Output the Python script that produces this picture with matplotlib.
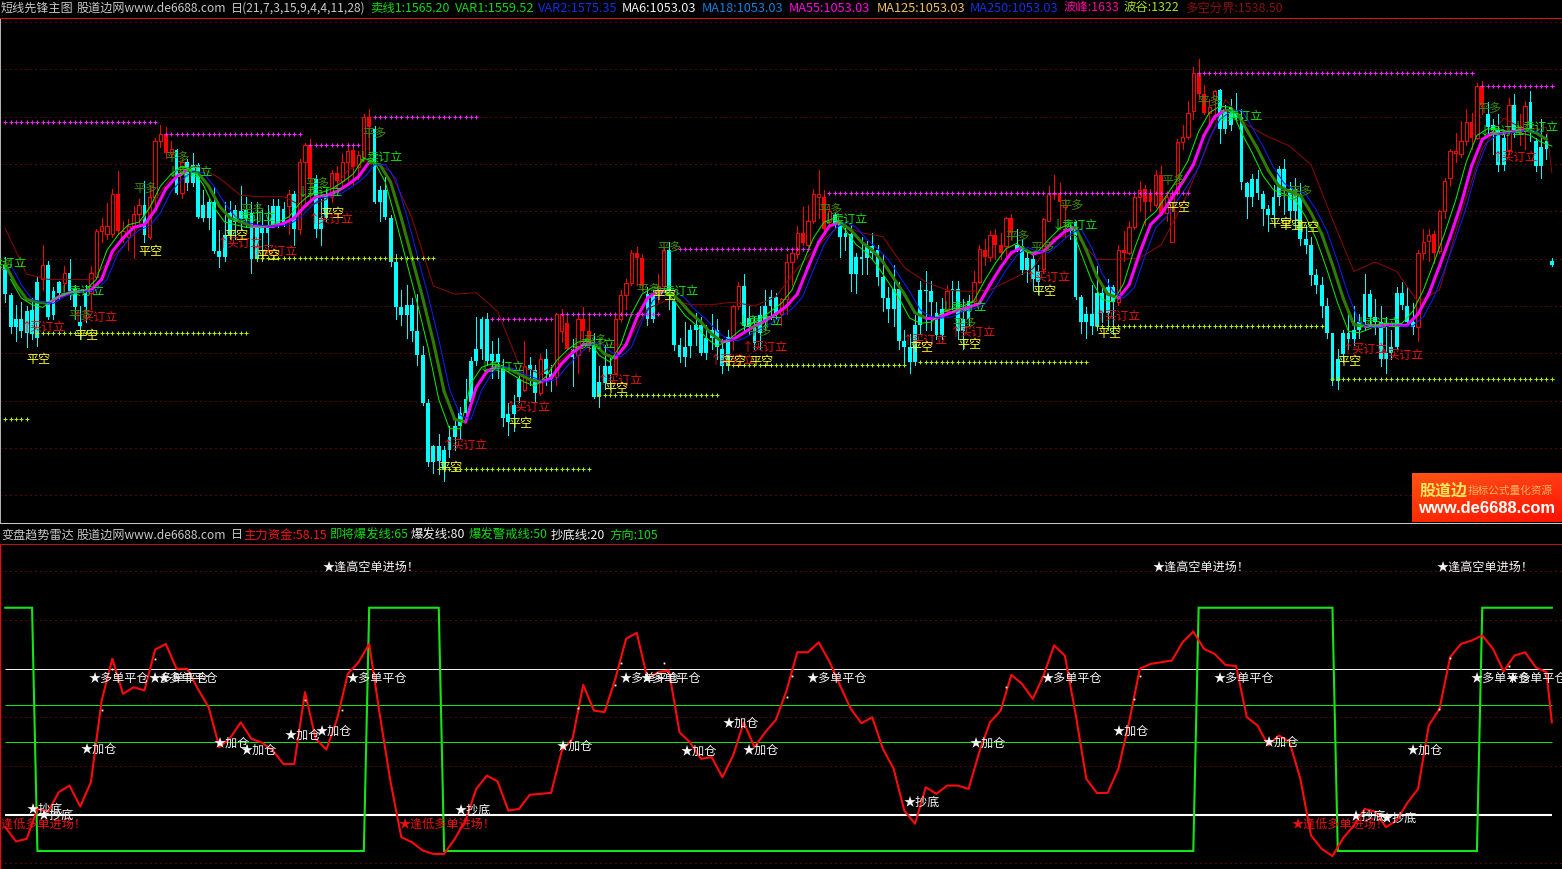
import numpy as np
import matplotlib
matplotlib.use("Agg")
import matplotlib.pyplot as plt
from matplotlib.collections import LineCollection

plt.rcParams['font.family'] = ['Noto Sans CJK SC', 'DejaVu Sans']

# ---------------- price panel data ----------------
bar_colors = ("cccccccrcc" "crccccrrrr" "rrrrrrcrrr" "rrcrcccccc" "cccccccccc" "cccrcrrrcc" "crrrrrrrrc"
              "cccccccccc" "cccccccccc" "cccccccrcc" "rccrrrcrrr" "ccccrrrrrr" "ccrrcccccc" "ccccccrrcc"
              "cccccrrrrr" "rrrrrccccc" "cccccccccc" "ccccccrccc" "crrrrrrrrc" "ccccrrrrrc" "ccccccccrr"
              "rrrrrrrrrr" "rrrrrrrccc" "cccccccccc" "cccccccccc" "cccccccccc" "ccccrrrrrr" "rrrrrrrccc"
              "crcrrccccc")
solid_red_bars = [21, 30, 57, 62, 65, 68, 105, 108, 109, 118, 119, 149, 153, 183, 185, 186, 188, 197,
                  209, 213, 214, 216, 223, 224, 267, 274, 276, 283]
body_top = [
 1481,1458,1440,1440,1446,1447,1468,1481,1481,1461, 1468,1475,1475,1463,1438,1460,1475,1506,1510,1510,
 1534,1534,1506,1510,1519,1526,1526,1532,1574,1579, 1579,1568,1567,1558,1558,1556,1556,1526,1528,1528,
 1491,1503,1520,1522,1521,1522,1520,1511,1511,1511, 1525,1525,1523,1534,1534,1558,1571,1571,1545,1516,
 1534,1550,1550,1558,1566,1567,1563,1592,1592,1583, 1537,1537,1516,1483,1449,1451,1451,1431,1413,1377,
 1345,1345,1342,1352,1360,1370,1380,1409,1418,1440, 1440,1414,1414,1404,1369,1376,1395,1405,1406,1402,
 1410,1410,1399,1444,1444,1437,1418,1440,1440,1431, 1422,1393,1405,1405,1440,1458,1467,1490,1490,1486,
 1459,1459,1465,1492,1492,1454,1421,1419,1432,1436, 1436,1426,1432,1432,1418,1427,1450,1465,1465,1441,
 1434,1443,1450,1457,1457,1455,1483,1490,1505,1505, 1514,1534,1534,1532,1521,1518,1513,1505,1504,1487,
 1487,1495,1495,1492,1472,1456,1463,1463,1424,1419, 1436,1462,1462,1461,1445,1448,1461,1463,1463,1440,
 1454,1468,1493,1492,1503,1503,1496,1516,1516,1496, 1495,1486,1485,1476,1515,1534,1535,1535,1526,1508,
 1513,1457,1444,1444,1460,1460,1464,1464,1492,1492, 1509,1532,1537,1538,1534,1548,1548,1532,1535,1573,
 1577,1595,1625,1625,1609,1599,1611,1612,1598,1599, 1596,1592,1542,1545,1545,1534,1523,1532,1553,1553,
 1538,1538,1534,1500,1496,1473,1466,1450,1430,1410, 1430,1430,1432,1438,1459,1459,1442,1438,1415,1419,
 1460,1460,1450,1438,1490,1498,1503,1504,1521,1544, 1566,1566,1574,1588,1588,1615,1615,1594,1586,1582,
 1576,1601,1601,1585,1600,1603,1574,1569,1574,1484]
body_bot = [
 1459,1434,1434,1431,1430,1429,1426,1470,1442,1443, 1460,1467,1461,1449,1435,1449,1460,1472,1506,1504,
 1504,1506,1502,1502,1510,1519,1503,1502,1532,1574, 1565,1564,1535,1535,1542,1542,1517,1516,1516,1491,
 1487,1487,1503,1513,1515,1516,1485,1485,1505,1505, 1510,1510,1513,1525,1508,1508,1558,1545,1508,1508,
 1516,1532,1544,1544,1558,1554,1554,1562,1584,1528, 1528,1517,1483,1449,1443,1443,1431,1413,1377,1333,
 1333,1334,1327,1342,1352,1360,1370,1378,1409,1418, 1409,1409,1408,1366,1363,1369,1382,1387,1402,1385,
 1385,1399,1395,1397,1431,1418,1412,1413,1431,1421, 1382,1382,1392,1399,1400,1440,1458,1467,1486,1465,
 1440,1440,1459,1465,1461,1421,1412,1412,1420,1432, 1415,1415,1426,1419,1405,1405,1427,1450,1435,1434,
 1422,1430,1438,1450,1443,1444,1455,1483,1489,1497, 1496,1514,1532,1508,1513,1512,1502,1502,1474,1474,
 1485,1486,1490,1472,1456,1448,1448,1424,1419,1408, 1408,1436,1461,1453,1428,1428,1446,1461,1431,1431,
 1440,1454,1468,1487,1487,1496,1490,1495,1505,1492, 1477,1477,1470,1468,1478,1514,1534,1528,1524,1506,
 1457,1438,1438,1435,1435,1445,1445,1453,1453,1490, 1490,1509,1532,1528,1528,1526,1520,1520,1498,1535,
 1573,1577,1596,1609,1595,1595,1605,1583,1583,1586, 1592,1543,1532,1532,1535,1523,1518,1518,1532,1538,
 1521,1521,1500,1496,1473,1466,1450,1430,1394,1394, 1414,1425,1425,1432,1438,1442,1438,1410,1410,1415,
 1419,1451,1438,1434,1434,1490,1499,1490,1491,1521, 1546,1565,1564,1574,1576,1576,1601,1584,1582,1556,
 1556,1567,1582,1580,1582,1581,1555,1555,1568,1481]
highs = [
 1487,1460,1451,1453,1450,1456,1472,1496,1484,1464, 1469,1480,1485,1466,1450,1466,1480,1508,1516,1527,
 1538,1551,1514,1515,1525,1530,1544,1541,1576,1586, 1584,1574,1568,1560,1560,1565,1557,1537,1530,1539,
 1507,1528,1529,1526,1540,1532,1528,1528,1522,1526, 1530,1530,1528,1537,1536,1560,1572,1575,1548,1530,
 1538,1552,1555,1565,1572,1571,1566,1594,1598,1585, 1540,1547,1518,1489,1462,1466,1456,1459,1420,1380,
 1346,1354,1345,1360,1365,1374,1395,1412,1442,1442, 1445,1424,1426,1410,1377,1383,1399,1424,1412,1406,
 1414,1418,1406,1445,1448,1442,1425,1444,1449,1442, 1430,1405,1421,1413,1443,1462,1470,1492,1494,1489,
 1464,1462,1474,1494,1498,1456,1426,1438,1436,1445, 1442,1436,1444,1440,1425,1432,1451,1468,1474,1450,
 1442,1450,1462,1462,1460,1456,1489,1492,1510,1524, 1526,1538,1552,1537,1526,1520,1514,1511,1511,1490,
 1502,1499,1505,1496,1489,1464,1481,1468,1432,1429, 1443,1469,1476,1469,1453,1456,1466,1469,1469,1455,
 1458,1476,1496,1500,1506,1508,1505,1517,1519,1508, 1500,1492,1490,1481,1516,1540,1548,1542,1530,1511,
 1514,1458,1449,1466,1480,1466,1470,1466,1496,1506, 1514,1534,1544,1541,1538,1552,1555,1535,1537,1575,
 1586,1604,1629,1635,1616,1605,1612,1613,1601,1605, 1610,1598,1543,1549,1552,1536,1526,1541,1555,1560,
 1543,1546,1542,1511,1502,1478,1472,1456,1430,1418, 1432,1448,1450,1444,1474,1462,1455,1450,1442,1432,
 1464,1468,1464,1452,1492,1508,1508,1506,1522,1546, 1568,1580,1589,1598,1595,1617,1619,1603,1590,1594,
 1582,1606,1609,1594,1604,1611,1576,1590,1579,1486]
lows = [
 1453,1430,1424,1427,1419,1425,1420,1462,1440,1440, 1455,1461,1455,1440,1425,1438,1448,1472,1498,1500,
 1502,1504,1498,1492,1486,1511,1498,1500,1526,1569, 1561,1562,1534,1531,1537,1540,1516,1514,1508,1490,
 1479,1484,1500,1500,1508,1509,1475,1484,1484,1492, 1509,1509,1510,1504,1496,1504,1526,1530,1502,1496,
 1514,1528,1536,1539,1544,1541,1545,1562,1564,1527, 1514,1515,1480,1440,1436,1426,1424,1406,1376,1330,
 1325,1324,1319,1337,1342,1350,1370,1378,1406,1410, 1406,1396,1396,1360,1353,1356,1378,1386,1391,1378,
 1383,1391,1386,1391,1423,1418,1390,1400,1421,1416, 1381,1374,1388,1388,1399,1438,1448,1466,1466,1462,
 1436,1438,1453,1462,1448,1417,1408,1405,1412,1421, 1413,1410,1418,1410,1400,1402,1417,1448,1432,1429,
 1418,1418,1432,1440,1440,1436,1444,1466,1486,1496, 1495,1512,1516,1506,1510,1509,1487,1492,1461,1460,
 1474,1474,1485,1466,1446,1438,1435,1418,1406,1400, 1406,1429,1432,1432,1425,1425,1444,1448,1425,1418,
 1436,1451,1467,1481,1484,1485,1485,1486,1500,1491, 1474,1468,1462,1459,1475,1514,1530,1508,1502,1500,
 1455,1430,1426,1429,1432,1438,1432,1429,1451,1484, 1489,1508,1521,1511,1521,1524,1518,1514,1498,1534,
 1568,1575,1590,1605,1594,1585,1590,1572,1580,1582, 1590,1538,1516,1525,1530,1511,1506,1511,1526,1519,
 1516,1508,1496,1490,1466,1460,1442,1426,1391,1388, 1408,1418,1421,1426,1432,1436,1429,1405,1400,1410,
 1418,1448,1436,1429,1424,1485,1484,1482,1490,1516, 1540,1558,1562,1571,1568,1575,1594,1579,1564,1551,
 1552,1564,1577,1571,1568,1574,1551,1546,1560,1480]

# values sampled every second bar
band_mid = [
 1481,1466,1455,1453,1452,1457,1460,1461,1462,1470, 1491,1501,1509,1511,1522,1538,1547,1552,1550,1540,
 1525,1516,1513,1510,1510,1510,1512,1516,1525,1532, 1533,1536,1541,1547,1558,1556,1543,1516,1486,1456,
 1423,1386,1365,1363,1389,1401,1405,1403,1399,1395, 1393,1396,1407,1415,1421,1422,1414,1411,1421,1441,
 1456,1461,1461,1454,1445,1438,1429,1423,1425,1430, 1435,1439,1444,1450,1459,1479,1498,1510,1513,1507,
 1498,1492,1483,1471,1459,1445,1441,1441,1444,1447, 1449,1452,1466,1479,1490,1494,1489,1491,1499,1506,
 1509,1492,1472,1459,1456,1466,1490,1511,1519,1531, 1543,1556,1578,1592,1597,1596,1582,1568,1552,1540,
 1536,1533,1520,1504,1481,1456,1436,1435,1435,1436, 1436,1436,1444,1459,1480,1502,1526,1555,1575,1580,
 1580,1581,1582,1580,1575]
var1 = [
 1470,1456,1451,1449,1455,1459,1461,1462,1470,1492, 1503,1511,1513,1524,1540,1549,1555,1552,1541,1524,
 1513,1511,1509,1509,1510,1513,1517,1527,1534,1535, 1538,1543,1549,1561,1558,1543,1514,1483,1452,1419,
 1380,1358,1358,1392,1404,1407,1403,1398,1393,1390, 1397,1409,1417,1423,1424,1413,1408,1421,1444,1459,
 1464,1463,1454,1443,1436,1426,1420,1424,1431,1436, 1440,1446,1452,1462,1482,1501,1513,1516,1507,1496,
 1490,1480,1468,1456,1441,1437,1438,1445,1448,1450, 1454,1469,1482,1493,1497,1490,1491,1500,1508,1512,
 1490,1469,1455,1453,1467,1493,1514,1521,1533,1545, 1559,1581,1595,1600,1599,1580,1565,1548,1537,1534,
 1530,1517,1500,1477,1452,1431,1430,1433,1437,1437, 1437,1446,1462,1483,1505,1529,1558,1578,1583,1582,
 1581,1580,1578,1573,1570]
var2 = [
 1485,1481,1466,1455,1453,1452,1457,1460,1461,1462, 1470,1489,1500,1507,1510,1520,1536,1545,1551,1550,
 1540,1527,1517,1513,1511,1510,1510,1511,1516,1524, 1531,1532,1535,1540,1546,1556,1556,1545,1518,1488,
 1458,1425,1388,1368,1365,1387,1400,1405,1403,1399, 1396,1393,1395,1405,1413,1420,1423,1416,1412,1419,
 1439,1454,1460,1462,1456,1447,1440,1431,1425,1424, 1428,1433,1437,1442,1448,1457,1477,1496,1508,1513,
 1509,1500,1493,1485,1473,1461,1447,1442,1441,1442, 1446,1448,1451,1464,1477,1488,1494,1491,1490,1497,
 1504,1508,1494,1474,1461,1456,1464,1488,1509,1517, 1529,1541,1554,1576,1590,1596,1597,1584,1570,1554,
 1542,1537,1534,1522,1506,1483,1458,1438,1434,1434, 1435,1435,1435,1442,1457,1478,1500,1524,1553,1573,
 1579,1580,1581,1582,1580]
# sampled every fourth bar, last point on the final bar
bound_line = [
 1508,1474,1470,1470,1470,1486,1504,1530,1552,1555, 1546,1533,1532,1532,1524,1530,1552,1560,1551,1516,
 1465,1459,1460,1446,1406,1399,1410,1425,1421,1421, 1448,1455,1451,1451,1453,1450,1457,1478,1496,1511,
 1505,1502,1479,1468,1462,1461,1462,1470,1478,1502, 1503,1485,1485,1486,1496,1526,1564,1605,1586,1577,
 1570,1556,1515,1476,1483,1476,1453,1462,1519,1568, 1591,1582,1584,1550]

res_start = [0, 30, 57, 69, 91, 104, 126, 154, 223, 276]
res_end = [28, 55, 66, 88, 102, 122, 150, 221, 274, 289]
res_price = [1588, 1579, 1571, 1591.5, 1440, 1444, 1493, 1534.5, 1625, 1615]
sup_start = [0, 6, 47, 81, 111, 135, 171, 204, 248]
sup_end = [4, 45, 80, 109, 133, 168, 202, 246, 289]
sup_price = [1365, 1429.5, 1486, 1327.5, 1383, 1406, 1408, 1435, 1395]

sell_bars = [-3.8,10.8,31.1,42.9,55.4,66.6,89.3,106.4,121.8,137.6,153.5,175.6,196.5,227.3,253.1,276.3,282.5]
sell_prices = [1483,1462,1551,1517,1536,1562,1405,1422,1462,1439,1516,1450,1511,1593,1438,1582,1585]
buy_bars = [3.7,13.4,40.5,47.0,57.5,82.5,94.3,111.5,132.6,138.6,168.5,177.4,191.5,204.5,250.7,257.4,278.7]
buy_prices = [1435,1442,1498,1492,1516,1346,1375,1395,1410,1420,1425,1431,1472,1443,1418,1414,1562]
cover_long_bars = [23.9,30,-2.9,11.7,43.9,56,66.8,108,121.8,118,138.6,152,176.9,186.8,196.9,216,222.8,191.5,239.7,237.8,275]
cover_long_prices = [1539,1562,1481,1444,1523,1543,1580,1425,1495,1463,1432,1523,1438,1503,1526,1545,1604,1495,1537,1534,1599]
cover_short_bars = [24.8,41,47,58.8,4,13,81,94,112,121,134,139.1,169,178,192,217,204,236,238,241,249]
cover_short_prices = [1492,1504,1489,1520,1411,1429,1330,1363,1389,1459,1409,1409,1420,1422,1462,1525,1430,1513,1511,1510,1409]

# ---------------- oscillator panel data ----------------
money_flow = [
 14.8,8.9,10,22.3,21.2,29.2,31.9,23.3,33.3,66.8, 84,69.6,72.3,71,87.8,90.1,79.9,79.9,71.6,64.1,
 47.7,51.4,57.9,51.1,49.5,46.3,40.7,40.8,70.3,51.1, 46.7,59.3,77.8,82.6,90.1,60.7,33.3,10.7,8.6,5.2,
 3.8,3.8,10,17.5,30.5,36,33.6,21.6,22.3,
 28.1,28.5,28.9,46.3,51.1,73.3,62.7,62.1,75.8,92.2, 94.7,75.8,78.5,79.2,53.8,49.5,42.9,43.6,35.3,44.2,
 57.9,47.7,53.8,58.9,71,86.7,86.7,90.8,82.9,73, 63.4,57.5,60,47,38.8,21.6,16.2,31.2,28.5,31.9,
 31.9,30.5,45.6,57.9,62.7,77.4,73.7,67.5,
 77.1,89.5,85.3,61.4,34.7,28.8,28.9,38.8,57.9,79.9, 81.9,82.6,83.3,90.8,95.2,88.1,86,81.5,81,60,
 56.6,48.4,52.5,49.7,34.7,11.4,5.9,2.9,10.3,15.5, 22.3,21.2,14.8,17.5,24.8,30.5,56.6,63.4,84.7,90.1,
 91.5,93.6,88.1,78.9,85.3,86.7,80.5,78.5,57.9]
direction_values = [105, 5, 105, 5, 105, 5, 105]
direction_runs = [6, 62, 14, 141, 26, 27, 14]
dot_bars = [18,20,28,56,63,107,114,115,123,146,147,187,211,212,268,270,281]
dot_values = [63,80,84,67,63,63.7,73.3,82.2,82.3,68.2,77.1,72.3,67.3,76.8,63.3,84.2,81]

short_entry_bars = [59.2, 214.3, 267.5]
short_entry_values = [121.9, 121.9, 121.9]
long_entry_bars = [-3.0, 73.4, 240.4]
long_entry_values = [16.3, 16.3, 16.3]
close_long_bars = [15.6,26.7,28.5,63.7,114.7,118.8,149.8,193.7,225.7,273.9,280.6]
add_bars = [14,39,44,52.1,58,103.1,126.1,134.1,137.8,180.1,207,235,261.9]
add_values = [47.1,49.6,46.7,52.9,54.5,48.4,46.3,57.8,46.7,49.6,54.5,50,46.7]
bottom_bars = [4,6.1,84,167.9,251.2,257]
bottom_values = [22.5,20,22,25.3,19.6,18.8]

header_top = [("短线先锋主图", 1, "#c8c8c8"), ("股道边网www.de6688.com", 77, "#c8c8c8"),
              ("日(21,7,3,15,9,4,4,11,28)", 231, "#c8c8c8"), ("卖线1:1565.20", 370, "#10d810"),
              ("VAR1:1559.52", 455, "#10d810"), ("VAR2:1575.35", 538, "#1030e0"), ("MA6:1053.03", 622, "#f0f0f0"),
              ("MA18:1053.03", 702, "#1080e0"), ("MA55:1053.03", 789, "#ff00e0"), ("MA125:1053.03", 877, "#f0c060"),
              ("MA250:1053.03", 970, "#1030e0"), ("波峰:1633", 1064, "#ff00a0"), ("波谷:1322", 1124, "#a0e020"),
              ("多空分界:1538.50", 1185, "#8a1010")]
header_low = [("变盘趋势雷达", 1, "#c8c8c8"), ("股道边网www.de6688.com", 77, "#c8c8c8"), ("日", 231, "#c8c8c8"),
              ("主力资金:58.15", 243, "#ff1010"), ("即将爆发线:65", 329, "#10d810"), ("爆发线:80", 411, "#f0f0f0"),
              ("爆发警戒线:50", 469, "#10d810"), ("抄底线:20", 551, "#f0f0f0"), ("方向:105", 609, "#10d810")]

W, H = 1562, 870
fig = plt.figure(figsize=(W / 100, H / 100), dpi=100, facecolor="black")
PX = 0.72
LEFT, RIGHT = -0.99, 290.9

def make_axes(top, bottom, y0, y1, grid, top_col, left_col):
    ax = fig.add_axes([0, (H - bottom) / H, 1, (bottom - top) / H], facecolor="black")
    ax.set_xlim(LEFT, RIGHT)
    ax.set_ylim(y0, y1)
    ax.set_xticks([])
    ax.set_yticks(grid)
    ax.tick_params(length=0, labelleft=False)
    ax.grid(axis="y", color="#a01010", linestyle=(0, (1, 4)), linewidth=PX)
    ax.set_axisbelow(True)
    for s in ("top", "bottom", "left", "right"):
        ax.spines[s].set_visible(False)
    ax.spines["top"].set_visible(True)
    ax.spines["top"].set_color(top_col)
    ax.spines["top"].set_linewidth(PX)
    ax.spines["left"].set_visible(True)
    ax.spines["left"].set_color(left_col)
    ax.spines["left"].set_linewidth(PX)
    return ax

# price panel: 1663 ... 1308 every 35.5
price_grid = [1663, 1627.5, 1592, 1556.5, 1521, 1485.5, 1450, 1414.5, 1379, 1343.5, 1308]
ax1 = make_axes(19, 523.6, 1287.6, 1666.05, price_grid, "#e01010", "#b0b0b0")
ax1.spines["bottom"].set_visible(True)
ax1.spines["bottom"].set_color("#c8c8c8")
ax1.spines["bottom"].set_linewidth(PX)

n = len(body_top)
bars = np.arange(n)
top = np.array(body_top, float)
bot = np.array(body_bot, float)
is_up = np.array([c == "r" for c in bar_colors[:n]])
solid = np.isin(bars, solid_red_bars)
colors = np.where(is_up, "#ff0000", "#00ffff")
ax1.vlines(bars, np.array(lows[:n]), np.array(highs[:n]), colors=colors, linewidth=PX, zorder=2, antialiased=False)
cy = ~is_up
ax1.bar(bars[cy], top[cy] - bot[cy], bottom=bot[cy], width=0.72, color="#00ffff", linewidth=0, zorder=3)
sr = is_up & solid
ax1.bar(bars[sr], top[sr] - bot[sr], bottom=bot[sr], width=0.72, color="#ff0000", linewidth=0, zorder=3)
hr = is_up & ~solid
ax1.bar(bars[hr], top[hr] - bot[hr], bottom=bot[hr], width=0.62, facecolor="black", edgecolor="#ff0000",
        linewidth=PX, zorder=3)

band_bars = np.arange(len(band_mid)) * 2
ax1.plot(np.append(np.arange(len(bound_line) - 1) * 4, n - 1), bound_line, color="#8e0808", lw=PX, zorder=4)
pts = np.column_stack([band_bars, band_mid])
segs = np.stack([pts[:-1], pts[1:]], axis=1)
rising = np.diff(band_mid) >= 0
ax1.add_collection(LineCollection(segs, colors=np.where(rising, "#ff00ff", "#2f7d00"), linewidths=2.2,
                                  capstyle="round", zorder=5))
# the fast line leads the band by one bar, the slow line lags it by one bar
ax1.plot(np.arange(len(var1)) * 2 + 1, var1, color="#00f000", lw=PX, zorder=6)
ax1.plot(np.arange(len(var2))[1:] * 2 - 1, var2[1:], color="#0a20ff", lw=PX, zorder=6)

for s, e, p in zip(res_start, res_end, res_price):
    xs = np.arange(s, e + 1)
    ax1.plot(xs, [p] * len(xs), ls="none", marker="+", ms=2.9, mew=PX, color="#ff20ff", zorder=7)
for s, e, p in zip(sup_start, sup_end, sup_price):
    xs = np.arange(s, e + 1)
    ax1.plot(xs, [p] * len(xs), ls="none", marker="+", ms=2.9, mew=PX, color="#a8f000", zorder=7)

FS = 8.7
def put(ax, xs, ys, txt, col, fs=FS, z=9):
    for x, y in zip(xs, ys):
        ax.text(x, y, txt, color=col, fontsize=fs, ha="left", va="center", zorder=z, clip_on=True)

def put_order(ax, xs, ys, arrow, txt, col):
    # the arrow overlaps the first character, as in the reference
    put(ax, [x - 0.9 for x in xs], ys, arrow, col)
    put(ax, [x + 0.9 for x in xs], ys, txt, col)

put(ax1, cover_long_bars, cover_long_prices, "平多", "#3f8a00")
put_order(ax1, sell_bars, sell_prices, "↓", "卖订立", "#10e010")
put_order(ax1, buy_bars, buy_prices, "↑", "买订立", "#e81010")
put(ax1, cover_short_bars, cover_short_prices, "平空", "#ffff20")

# oscillator panel
osc_grid = [120, 100, 60, 40, 0]
ax2 = make_axes(545, 870, -2.4, 131.2, osc_grid, "#c01010", "#e01010")
ax2.spines["left"].set_linewidth(1.0)
x_end = n - 1
ax2.hlines([80], 0, x_end, color="#f0f0f0", lw=PX, zorder=2)
ax2.hlines([65, 50], 0, x_end, color="#10e810", lw=PX, zorder=2)
ax2.hlines([20], 0, x_end, color="#ffffff", lw=1.5, zorder=2)
direction = np.repeat(direction_values, direction_runs)
ax2.plot(np.arange(len(direction)), direction, color="#14e614", lw=1.5, zorder=3, solid_joinstyle="miter")
money_bars = np.append(np.arange(len(money_flow) - 1) * 2, n - 1)
ax2.plot(money_bars, money_flow, color="#ff0a0a", lw=1.5, zorder=4)
ax2.plot(dot_bars, dot_values, ls="none", marker="s", ms=1.3, mew=0, color="#ffffe0", zorder=5)

put(ax2, short_entry_bars, short_entry_values, "★逢高空单进场！", "#f5f5f5")
put(ax2, long_entry_bars, long_entry_values, "★逢低多单进场！", "#f01010")
put(ax2, close_long_bars, [76.3] * len(close_long_bars), "★多单平仓", "#f5f5f5")
put(ax2, add_bars, add_values, "★加仓", "#f5f5f5")
put(ax2, bottom_bars, bottom_values, "★抄底", "#f5f5f5")

# headers: mainly Latin labels run a little wider than the Chinese ones
def header_size(txt):
    return 9.2 if txt[:2] in ("MA", "VA") else 8.9 if ":" in txt else FS

for txt, x, col in header_top:
    fig.text(x / W, 1 - 8 / H, txt, color=col, fontsize=header_size(txt), ha="left", va="center")
for txt, x, col in header_low:
    fig.text(x / W, 1 - 535 / H, txt, color=col, fontsize=header_size(txt), ha="left", va="center")

# logo box
logo = fig.add_axes([1412 / W, (H - 523) / H, 150 / W, 49 / H], zorder=20)
gx, gy = np.meshgrid(np.linspace(0, 1, 60), np.linspace(0, 1, 20))
grad = np.dstack([np.ones_like(gx), 0.33 - 0.2 * gy * 0.8 - 0.1 * gx, 0.08 * (1 - gy)])
logo.imshow(grad, aspect="auto", extent=(0, 1, 0, 1), origin="upper")
logo.axis("off")
logo.text(0.05, 0.66, "股道边", color="#ffe65a", fontsize=11.5, fontweight="bold", ha="left", va="center")
logo.text(0.37, 0.66, "指标公式量化资源", color="#ffb060", fontsize=7.7, ha="left", va="center")
logo.text(0.5, 0.30, "www.de6688.com", color="white", fontsize=11.9, fontweight="bold", ha="center", va="center",
          family=["Liberation Sans", "DejaVu Sans"])

fig.savefig("out.png", dpi=100, facecolor="black")
